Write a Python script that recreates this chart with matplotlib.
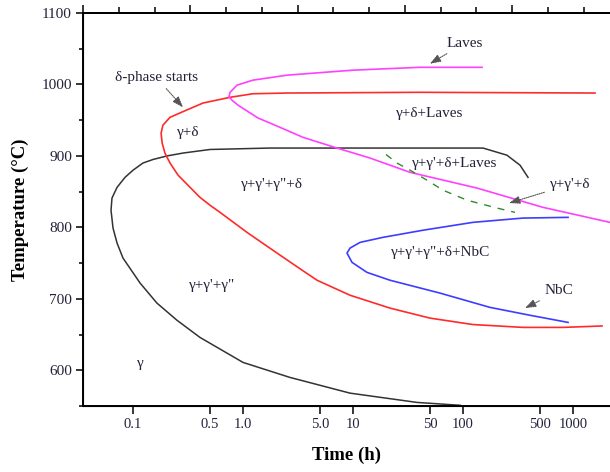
import numpy as np
import matplotlib
matplotlib.use("Agg")
import matplotlib.pyplot as plt
from matplotlib.ticker import FixedLocator, NullLocator, MultipleLocator

plt.rcParams['font.family'] = ['Liberation Serif', 'DejaVu Serif']

# gamma' / gamma'' start curve (C-shape)
black_t = [94, 38.2, 9.4, 2.67, 1.0, 0.406, 0.251, 0.165, 0.116, 0.0811, 0.0716,
           0.0658, 0.0631, 0.0644, 0.0716, 0.0846, 0.1, 0.123, 0.152, 0.204,
           0.285, 0.501, 1.76, 152, 251, 330, 390]
black_T = [551, 555, 568, 590, 611, 646, 670, 694, 722, 757, 778,
           799, 824, 841, 856, 870, 880, 890, 895, 900,
           904, 909, 911, 911, 901, 887, 870]

# delta-phase start curve
red_t = [1836, 811, 351, 123, 50.1, 21.7, 9.4, 4.71, 3.16, 1.87, 1.087, 0.618,
         0.501, 0.406, 0.316, 0.257, 0.217, 0.195, 0.184, 0.180, 0.187, 0.217,
         0.285, 0.433, 0.762, 1.23, 2.51, 40.6, 1585]
red_T = [662, 660, 660, 664, 673, 687, 705, 726, 744, 768, 793, 821,
         831, 842, 859, 873, 890, 904, 918, 932, 943, 954,
         962, 974, 982, 987, 988, 989, 988]

# Laves start curve
laves_t = [2170, 534, 134, 33.0, 14.3, 7.15, 3.51, 1.76, 1.37, 0.901, 0.794,
           0.746, 0.762, 0.882, 1.23, 2.51, 10, 40.6, 149]
laves_T = [807, 828, 855, 877, 897, 911, 926, 946, 953, 971, 978,
           983, 989, 999, 1006, 1013, 1020, 1024, 1024]

# NbC curve
nbc_t = [902, 406, 176, 61.8, 21.7, 13.4, 9.8, 8.82, 9.4, 11.6, 18.7, 43.3, 123, 351, 902]
nbc_T = [667, 677, 688, 708, 726, 737, 751, 764, 771, 779, 786, 796, 807, 813, 814]

# dashed boundary
dash_t = [19.95, 25.1, 33, 47.1, 65.8, 109, 204, 297]
dash_T = [902, 890, 880, 866, 852, 838, 827, 821]

xticks = [0.1, 0.5, 1.0, 5.0, 10, 50, 100, 500, 1000]
xticklabels = ['0.1', '0.5', '1.0', '5.0', '10', '50', '100', '500', '1000']
yticks = [600, 700, 800, 900, 1000, 1100]

# region labels: text, time, temperature
region_text = ['\u03b3+\u03b4', '\u03b3+\u03b4+Laves', '\u03b3+\u03b3\'+\u03b3"+\u03b4',
               '\u03b3+\u03b3\'+\u03b4+Laves', '\u03b3+\u03b3\'+\u03b3"+\u03b4+NbC',
               '\u03b3+\u03b3\'+\u03b3"', '\u03b3']
region_t = [0.316, 50.1, 1.84, 84.6, 63, 0.523, 0.116]
region_T = [933, 960, 860, 890, 765, 718, 610]

# arrowed labels: text, text pos, arrow tip
arrow_text = ['Laves', '\u03b4-phase starts', '\u03b3+\u03b3\'+\u03b4', 'NbC']
arrow_text_t = [104, 0.162, 939, 746]
arrow_text_T = [1058, 1010, 860, 711]
arrow_tip_t = [50, 0.285, 262, 366]
arrow_tip_T = [1029, 968, 834, 687]

txt_color = '#22223a'

fig = plt.figure(figsize=(6.10, 4.72), dpi=100)
ax = fig.add_axes([83/610, 66/472, 527/610, 393/472])

ax.plot(black_t, black_T, color='#333333', lw=1.1)
ax.plot(red_t, red_T, color='#ff2a2a', lw=1.2)
ax.plot(laves_t, laves_T, color='#ff40ff', lw=1.2)
ax.plot(nbc_t, nbc_T, color='#3d3dff', lw=1.2)
ax.plot(dash_t, dash_T, color='#2e8b2e', lw=1.0, dashes=(5, 5))

ax.set_xscale('log')
ax.set_xlim(0.0351, 2170)
ax.set_ylim(550, 1100)

ax.xaxis.set_major_locator(FixedLocator(xticks))
ax.set_xticklabels(xticklabels)
ax.xaxis.set_minor_locator(NullLocator())
ax.yaxis.set_major_locator(FixedLocator(yticks))
ax.yaxis.set_minor_locator(MultipleLocator(50))

ax.tick_params(axis='x', which='major', direction='out', length=6, width=1.1,
               labelsize=10.5, pad=3, labelcolor=txt_color)
ax.tick_params(axis='y', which='major', direction='out', length=5, width=1.1,
               labelsize=11, pad=3, labelcolor=txt_color)
ax.tick_params(axis='y', which='minor', direction='out', length=3, width=1.1)

for s in ['left', 'bottom', 'top']:
    ax.spines[s].set_linewidth(1.4)
ax.spines['right'].set_visible(False)

# top axis with plain linear ticks
ax2 = ax.twiny()
ax2.set_xlim(0, 527/107.3)
ax2.xaxis.set_major_locator(MultipleLocator(1))
ax2.xaxis.set_minor_locator(MultipleLocator(1/3))
ax2.tick_params(axis='x', which='major', direction='out', length=6, width=1.1, labeltop=False)
ax2.tick_params(axis='x', which='minor', direction='out', length=4, width=1.1)
ax2.spines['right'].set_visible(False)
ax2.spines['top'].set_linewidth(1.4)

ax.set_xlabel('Time (h)', fontsize=13.5, fontweight='bold', labelpad=11)
ax.set_ylabel('Temperature (\u00b0C)', fontsize=13.5, fontweight='bold', labelpad=9)

for s, t, T in zip(region_text, region_t, region_T):
    ax.text(t, T, s, fontsize=11, color=txt_color, ha='center', va='center')

for s, tt, TT, pt, pT in zip(arrow_text, arrow_text_t, arrow_text_T, arrow_tip_t, arrow_tip_T):
    ax.annotate(s, xy=(pt, pT), xytext=(tt, TT), fontsize=11, color=txt_color,
                ha='center', va='center',
                arrowprops=dict(arrowstyle='-|>,head_length=0.6,head_width=0.22',
                                color='#555555', lw=0.8, linestyle=(0, (1, 1)),
                                shrinkA=2, shrinkB=0))

fig.savefig('out.png', dpi=100)
